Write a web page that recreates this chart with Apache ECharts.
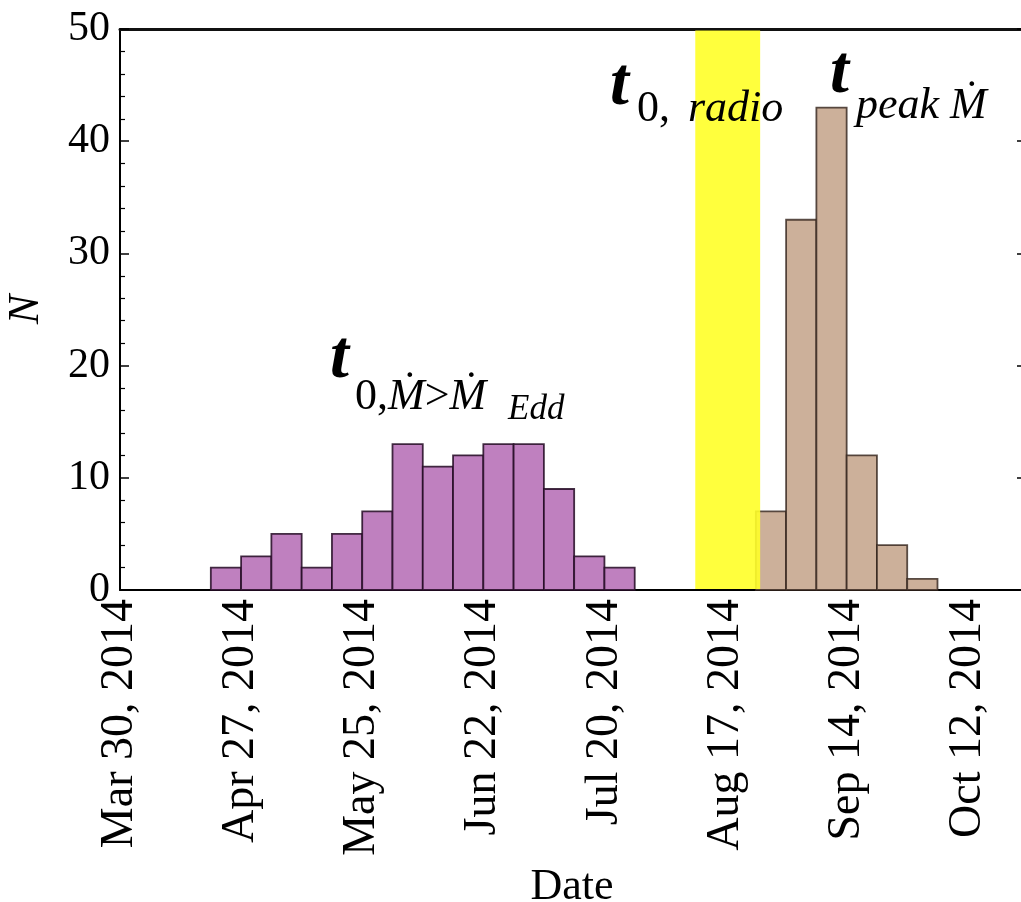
<!DOCTYPE html>
<html>
<head>
<meta charset="utf-8">
<script src="https://cdn.jsdelivr.net/npm/echarts@6/dist/echarts.min.js"></script>
<style>
  html, body { margin: 0; padding: 0; overflow: hidden; background: #fff; }
  #chart { width: 1030px; height: 902px; }
</style>
</head>
<body>
<div id="chart"></div>
<script>
// Time axis: days counted from the first tick date
const axisStart = '2014-03-30';
const axisEnd = '2014-10-25';
const tickStepDays = 28;
const tickLabels = ['Mar 30, 2014', 'Apr 27, 2014', 'May 25, 2014', 'Jun 22, 2014',
                    'Jul 20, 2014', 'Aug 17, 2014', 'Sep 14, 2014', 'Oct 12, 2014'];
const binDays = 7;

// Onset of super-Eddington accretion: weekly bins (week start dates) and counts
const eddWeeks = ['2014-04-20', '2014-04-27', '2014-05-04', '2014-05-11', '2014-05-18',
                  '2014-05-25', '2014-06-01', '2014-06-08', '2014-06-15', '2014-06-22',
                  '2014-06-29', '2014-07-06', '2014-07-13', '2014-07-20'];
const eddCounts = [2, 3, 5, 2, 5, 7, 13, 11, 12, 13, 13, 9, 3, 2];

// Peak accretion rate: weekly bins and counts
const peakWeeks = ['2014-08-24', '2014-08-31', '2014-09-07', '2014-09-14', '2014-09-21', '2014-09-28'];
const peakCounts = [7, 33, 43, 12, 4, 1];

// Radio onset window
const radioWindow = ['2014-08-10', '2014-08-25'];

const DAY = 86400000;
const dayOf = d => Math.round((Date.parse(d) - Date.parse(axisStart)) / DAY);

const serif = "'Liberation Serif', 'Times New Roman', serif";

function binData(weeks, counts) {
  return weeks.map((w, i) => [dayOf(w), dayOf(w) + binDays, counts[i]]);
}

function binRenderer(fill, stroke) {
  return function (params, api) {
    const p0 = api.coord([api.value(0), 0]);
    const p1 = api.coord([api.value(1), api.value(2)]);
    return {
      type: 'rect',
      shape: { x: p0[0], y: p1[1], width: p1[0] - p0[0], height: p0[1] - p1[1] },
      style: { fill: fill, stroke: stroke, lineWidth: 1.8 }
    };
  };
}

const chart = echarts.init(document.getElementById('chart'), null, { renderer: 'canvas' });

const option = {
  animation: false,
  backgroundColor: '#fff',
  grid: { left: 120, right: 6, top: 29, bottom: 312, containLabel: false, outerBoundsMode: 'none' },
  xAxis: [{
    type: 'value',
    min: 0,
    max: dayOf(axisEnd),
    interval: tickStepDays,
    name: 'Date',
    nameLocation: 'middle',
    nameGap: 275,
    nameTextStyle: { fontFamily: serif, fontSize: 44, color: '#000' },
    axisLine: { show: true, onZero: false, lineStyle: { color: '#000', width: 2 } },
    axisTick: { show: false },
    splitLine: { show: false },
    axisLabel: {
      rotate: 90,
      margin: 9,
      showMaxLabel: false,
      fontFamily: serif,
      fontSize: 46,
      color: '#000',
      formatter: v => (v % tickStepDays === 0 ? (tickLabels[v / tickStepDays] || '') : '')
    }
  }, {
    type: 'value',
    position: 'top',
    min: 0,
    max: dayOf(axisEnd),
    axisLine: { show: true, onZero: false, lineStyle: { color: '#111', width: 3 } },
    axisTick: { show: false },
    axisLabel: { show: false },
    splitLine: { show: false }
  }],
  yAxis: [{
    type: 'value',
    min: 0,
    max: 50,
    interval: 10,
    name: 'N',
    nameLocation: 'middle',
    nameGap: 72,
    nameTextStyle: { fontFamily: serif, fontSize: 44, fontStyle: 'italic', color: '#000' },
    axisLine: { show: true, onZero: false, lineStyle: { color: '#000', width: 2 } },
    axisTick: { show: true, inside: true, length: 9, lineStyle: { color: '#000', width: 1.5 } },
    minorTick: { show: true, splitNumber: 5, length: 5, lineStyle: { color: '#000', width: 1.2 } },
    splitLine: { show: false },
    axisLabel: { margin: 10, fontFamily: serif, fontSize: 42, color: '#000' }
  }, {
    type: 'value',
    position: 'right',
    min: 0,
    max: 50,
    interval: 10,
    axisLine: { show: true, onZero: false, lineStyle: { color: '#000', width: 2 } },
    axisTick: { show: true, inside: true, length: 7, lineStyle: { color: '#000', width: 1.5 } },
    axisLabel: { show: false },
    splitLine: { show: false }
  }],
  series: [{
    name: 'eddington',
    type: 'custom',
    renderItem: binRenderer('#BF80BF', 'rgba(35,10,35,0.85)'),
    encode: { x: [0, 1], y: 2 },
    data: binData(eddWeeks, eddCounts),
    z: 2
  }, {
    name: 'peak',
    type: 'custom',
    renderItem: binRenderer('#CCB09A', 'rgba(50,35,28,0.8)'),
    encode: { x: [0, 1], y: 2 },
    data: binData(peakWeeks, peakCounts),
    z: 2
  }, {
    name: 'radio',
    type: 'custom',
    renderItem: function (params, api) {
      const p0 = api.coord([api.value(0), 0]);
      const p1 = api.coord([api.value(1), 50]);
      return {
        type: 'rect',
        shape: { x: p0[0], y: p1[1] + 1.5, width: p1[0] - p0[0], height: p0[1] - p1[1] - 2.5 },
        style: { fill: 'rgba(255,255,40,0.9)' }
      };
    },
    encode: { x: [0, 1] },
    data: [[dayOf(radioWindow[0]), dayOf(radioWindow[1])]],
    z: 3
  }],
  graphic: [
    // t_{0, radio}
    { type: 'text', left: 610, top: 52, z: 10,
      style: { text: 't', font: 'italic bold 68px ' + serif, fill: '#000' } },
    { type: 'text', left: 637, top: 87, z: 10,
      style: {
        text: '{n|0,}{i|radio}',
        rich: {
          n: { fontFamily: serif, fontSize: 44, fill: '#000' },
          i: { fontFamily: serif, fontSize: 44, fontStyle: 'italic', fill: '#000', padding: [0, 0, 0, 18] }
        }
      } },
    // t_{peak Ṁ}
    { type: 'text', left: 830, top: 40, z: 10,
      style: { text: 't', font: 'italic bold 68px ' + serif, fill: '#000' } },
    { type: 'text', left: 856, top: 84, z: 10,
      style: { text: 'peak Ṁ', font: 'italic 44px ' + serif, fill: '#000' } },
    // t_{0, Ṁ > Ṁ_Edd}
    { type: 'text', left: 330, top: 325, z: 10,
      style: { text: 't', font: 'italic bold 68px ' + serif, fill: '#000' } },
    { type: 'text', left: 355, top: 375, z: 10,
      style: {
        text: '{n|0,}{i|Ṁ}{n|>}{i|Ṁ}',
        rich: {
          n: { fontFamily: serif, fontSize: 44, fill: '#000' },
          i: { fontFamily: serif, fontSize: 44, fontStyle: 'italic', fill: '#000' }
        }
      } },
    { type: 'text', left: 508, top: 392, z: 10,
      style: { text: 'Edd', font: 'italic 35px ' + serif, fill: '#000' } }
  ]
};

chart.setOption(option);
</script>
</body>
</html>
